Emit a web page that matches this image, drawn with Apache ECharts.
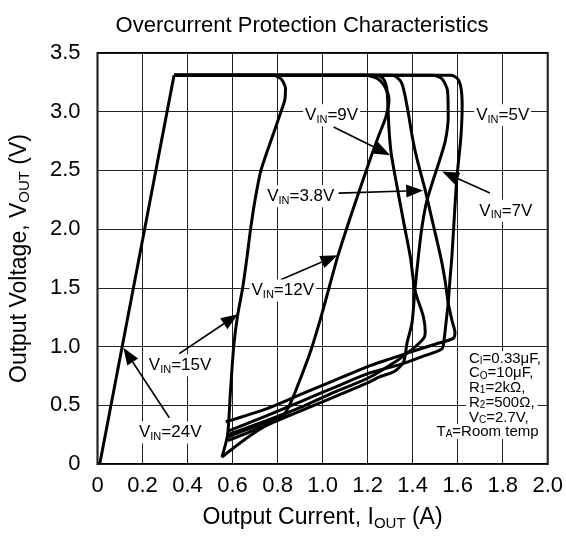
<!DOCTYPE html>
<html>
<head>
<meta charset="utf-8">
<script src="https://cdn.jsdelivr.net/npm/echarts@6/dist/echarts.min.js"></script>
<style>html,body{margin:0;padding:0;background:#fff}#c{width:566px;height:536px}</style>
</head>
<body>
<div id="c"></div>
<script>
// ---- data (Output Current A, Output Voltage V) ----
const curve24 = [[0.01,0.0],[0.34,3.31]];
const curve15 = [[0.34,3.31],[0.78,3.31],[0.815,3.28],[0.835,3.2],[0.832,3.1],[0.815,3.0],[0.77,2.75],[0.726,2.5],[0.70,2.25],[0.68,2.0],[0.664,1.76],[0.645,1.5],[0.622,1.26],[0.605,1.0],[0.59,0.6],[0.578,0.25],[0.553,0.06],[0.62,0.16],[0.70,0.27],[0.80,0.38],[0.86,0.42]];
const curve12 = [[0.34,3.31],[1.19,3.31],[1.245,3.28],[1.28,3.2],[1.295,3.1],[1.28,2.95],[1.25,2.80],[1.212,2.60],[1.13,2.14],[1.066,1.76],[1.0,1.3],[0.95,0.98],[0.90,0.72],[0.86,0.53],[0.827,0.42],[0.76,0.36],[0.66,0.29],[0.58,0.23]];
const curve9  = [[0.34,3.31],[1.24,3.31],[1.27,3.28],[1.285,3.2],[1.29,3.05],[1.295,2.85],[1.305,2.64],[1.33,2.37],[1.36,2.06],[1.39,1.76],[1.41,1.48],[1.447,1.26],[1.456,1.12],[1.447,1.065],[1.40,0.98],[1.33,0.88],[1.20,0.73],[1.05,0.61],[0.90,0.48],[0.75,0.37],[0.58,0.25]];
const curve38 = [[0.34,3.31],[1.31,3.31],[1.35,3.25],[1.375,3.05],[1.40,2.77],[1.419,2.60],[1.456,2.33],[1.49,2.05],[1.525,1.76],[1.545,1.55],[1.558,1.37],[1.575,1.22],[1.588,1.12],[1.58,1.07],[1.50,1.02],[1.40,0.96],[1.30,0.895],[1.20,0.83],[1.05,0.71],[0.90,0.59],[0.75,0.47],[0.57,0.36]];
const curve7  = [[0.34,3.31],[1.49,3.31],[1.53,3.28],[1.555,3.18],[1.558,2.95],[1.545,2.75],[1.522,2.60],[1.463,2.24],[1.44,2.0],[1.425,1.76],[1.41,1.48],[1.397,1.20],[1.375,1.03],[1.36,0.87],[1.32,0.79],[1.25,0.74],[1.20,0.69],[1.05,0.57],[0.90,0.45],[0.75,0.33],[0.58,0.20]];
const curve5  = [[0.34,3.31],[1.57,3.31],[1.60,3.28],[1.615,3.2],[1.62,3.05],[1.615,2.8],[1.605,2.6],[1.596,2.43],[1.585,2.1],[1.574,1.76],[1.565,1.55],[1.558,1.37],[1.548,1.2],[1.54,1.065],[1.53,0.98],[1.45,0.92],[1.35,0.85],[1.20,0.77],[1.05,0.65],[0.90,0.53],[0.75,0.41],[0.58,0.28]];

const curveNames = ['24V','15V','12V','9V','3.8V','7V','5V'];
const curves = [curve24, curve15, curve12, curve9, curve38, curve7, curve5];

// labels (V_IN) with anchor point and arrow (from -> to)
const labelNames = ['9V','3.8V','5V','7V','12V','15V','24V'];
const labelAt = [[1.04,2.97],[0.903,2.28],[1.80,2.97],[1.814,2.156],[0.823,1.477],[0.367,0.84],[0.323,0.268]];
const arrows = [[1.049,2.87,1.30,2.63],[1.071,2.307,1.447,2.33],[1.743,2.307,1.531,2.49],[0.814,1.569,1.066,1.778],[0.363,0.94,0.624,1.275],[0.319,0.394,0.115,0.99]];

// conditions box
const condMain = ['C','C','R','R','V','T'];
const condSub = ['I','O','1','2','C','A'];
const condRest = ['=0.33μF,','=10μF,','=2kΩ,','=500Ω,','=2.7V,','=Room temp'];
const condAt = [[1.637,0.898],[1.637,0.772],[1.637,0.646],[1.637,0.52],[1.637,0.394],[1.973,0.277]];

const xTicks = [0,0.2,0.4,0.6,0.8,1.0,1.2,1.4,1.6,1.8,2.0];

const FONT = '"Liberation Sans", Arial, sans-serif';
const chart = echarts.init(document.getElementById('c'), null, {renderer:'canvas'});

const lineSeries = curves.map((d,i)=>({
  name: curveNames[i], type:'line', data:d, showSymbol:false, symbol:'none',
  smooth:0.25, lineStyle:{color:'#000', width:3}, z:3, animation:false, silent:true
}));

const richLbl = (size, sub) => ({
  n:{fontSize:size, fontFamily:FONT, color:'#000', lineHeight:size+3},
  s:{fontSize:sub, fontFamily:FONT, color:'#000', lineHeight:sub, verticalAlign:'bottom'}
});

option = {
  backgroundColor:'#fff',
  animation:false,
  title:{text:'Overcurrent Protection Characteristics', left:297, top:10, textAlign:'center',
    textStyle:{fontSize:22, fontWeight:'normal', color:'#000', fontFamily:FONT}},
  grid:{left:96, right:18, top:53, bottom:66, show:true, borderColor:'#000', borderWidth:2, backgroundColor:'transparent'},
  xAxis:{type:'value', min:0, max:2, interval:0.2,
    axisLine:{show:false}, axisTick:{show:false},
    splitLine:{show:true, lineStyle:{color:'#222', width:1}},
    axisLabel:{fontSize:22, color:'#000', fontFamily:FONT, margin:11,
      formatter:v=>{const t=xTicks.find(k=>Math.abs(k-v)<1e-6); return t===0?'0':(t!==undefined?t.toFixed(1):'');}},
    name:'{n|Output Current, I}{s|OUT}{n| (A)}', nameLocation:'middle', nameGap:41,
    nameTextStyle:{rich:richLbl(23,15)}
  },
  yAxis:{type:'value', min:0, max:3.5, interval:0.5,
    axisLine:{show:false}, axisTick:{show:false},
    splitLine:{show:true, lineStyle:{color:'#222', width:1}},
    axisLabel:{fontSize:22, color:'#000', fontFamily:FONT, margin:17,
      formatter:v=> v===0?'0':v.toFixed(1)},
    name:'{n|Output Voltage, V}{s|OUT}{n| (V)}', nameLocation:'middle', nameGap:65,
    nameTextStyle:{rich:richLbl(23,15)}
  },
  series: lineSeries.concat([
    {type:'custom', name:'arrows', coordinateSystem:'cartesian2d', z:4, silent:true,
     encode:{x:[0,2], y:[1,3]}, data:arrows,
     renderItem:(params, api)=>{
       const a = api.coord([api.value(0), api.value(1)]);
       const b = api.coord([api.value(2), api.value(3)]);
       const dx=b[0]-a[0], dy=b[1]-a[1], L=Math.hypot(dx,dy);
       const ux=dx/L, uy=dy/L, hl=17, hw=6.5;
       const bx=b[0]-ux*hl, by=b[1]-uy*hl;
       return {type:'group', children:[
         {type:'line', shape:{x1:a[0],y1:a[1],x2:bx,y2:by}, style:{stroke:'#000', lineWidth:1.6}},
         {type:'polygon', shape:{points:[[b[0],b[1]],[bx-uy*hw,by+ux*hw],[bx+uy*hw,by-ux*hw]]}, style:{fill:'#000'}}
       ]};
     }},
    {type:'custom', name:'labels', coordinateSystem:'cartesian2d', z:5, silent:true,
     data: labelAt.map((p,i)=>[p[0],p[1],i]),
     renderItem:(params, api)=>{
       const p = api.coord([api.value(0), api.value(1)]);
       const i = api.value(2);
       return {type:'text', x:p[0], y:p[1], style:{
         text:'{n|V}{s|IN}{n|='+labelNames[i]+'}', align:'center', verticalAlign:'middle',
         backgroundColor:'#fff', padding:[1,2], rich:richLbl(17,11)}};
     }},
    {type:'custom', name:'conditions', coordinateSystem:'cartesian2d', z:5, silent:true,
     data: condAt.map((p,i)=>[p[0],p[1],i]),
     renderItem:(params, api)=>{
       const p = api.coord([api.value(0), api.value(1)]);
       const i = api.value(2);
       return {type:'text', x:p[0], y:p[1], style:{
         text:'{n|'+condMain[i]+'}{s|'+condSub[i]+'}{n|'+condRest[i]+'}', align: i===5?'right':'left', verticalAlign:'middle',
         backgroundColor:'#fff', padding:[0,3], rich:{
           n:{fontSize:15, fontFamily:FONT, color:'#000', lineHeight:15},
           s:{fontSize:10, fontFamily:FONT, color:'#000', lineHeight:10, verticalAlign:'bottom'}}}};
     }}
  ])
};
chart.setOption(option);
</script>
</body>
</html>
